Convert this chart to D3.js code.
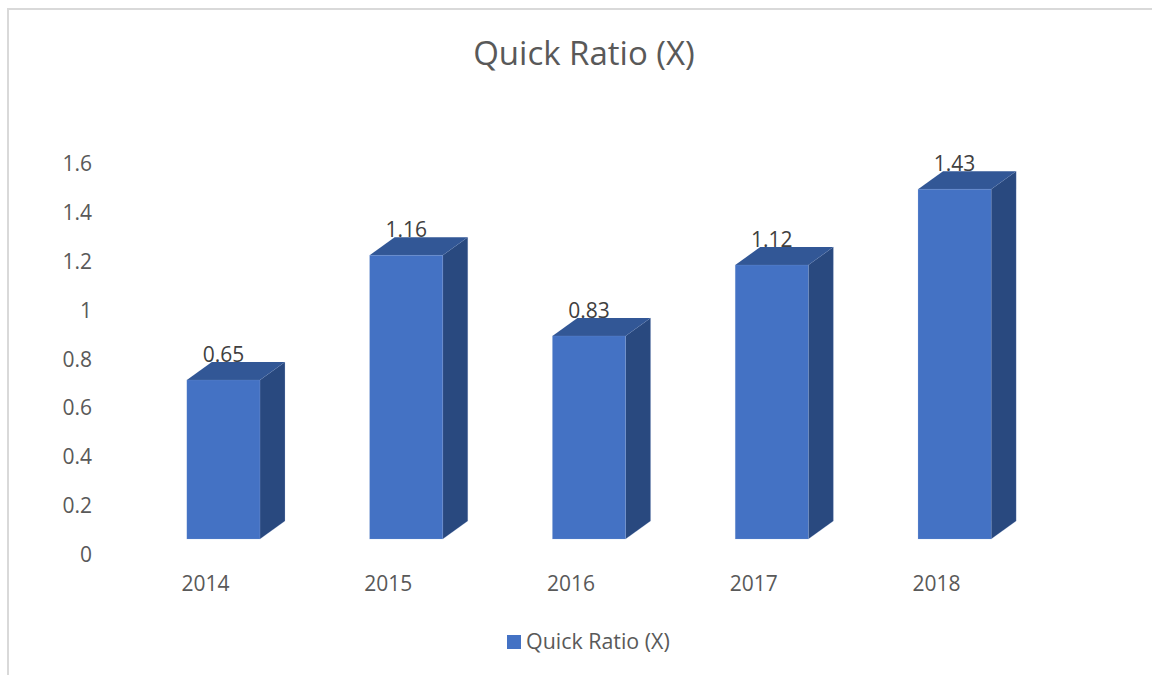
<!DOCTYPE html>
<html><head><meta charset="utf-8">
<script src="https://cdn.jsdelivr.net/npm/d3@7"></script>
<style>html,body{margin:0;padding:0;background:#fff}svg{display:block}text{font-family:"Open Sans",sans-serif}</style>
</head><body><svg id="c" width="1152" height="675"></svg>
<script>
const categories=["2014","2015","2016","2017","2018"];
const values=[0.65,1.16,0.83,1.12,1.43];
const yTicks=[0,0.2,0.4,0.6,0.8,1,1.2,1.4,1.6];
const seriesName="Quick Ratio (X)";
const W=1152,H=675,depthX=25,depthY=18;
const svg=d3.select("#c");
svg.append("path").attr("d",`M8,${H}V9H${W}`).attr("fill","none").attr("stroke","#d9d9d9").attr("stroke-width",2);
const x=d3.scaleBand().domain(categories).range([132,1046]).paddingInner(.6).paddingOuter(.3);
const y=d3.scaleLinear().domain([0,1.6]).range([539,147.6]);
svg.append("text").attr("x",584).attr("y",65).attr("text-anchor","middle").attr("font-size",33).attr("fill","#595959").text(seriesName);
const ya=svg.append("g").attr("transform","translate(92,16)").call(d3.axisLeft(y).tickValues(yTicks).tickSize(0).tickPadding(0).tickFormat(d=>String(d)));
ya.select(".domain").remove();
ya.selectAll("text").attr("font-size",21).attr("font-family",'"Open Sans",sans-serif').attr("fill","#595959");
const xa=svg.append("g").attr("transform","translate(-18,576)").call(d3.axisBottom(x).tickSize(0).tickPadding(0));
xa.select(".domain").remove();
xa.selectAll("text").attr("font-size",21).attr("font-family",'"Open Sans",sans-serif').attr("fill","#595959");
const bars=svg.append("g").selectAll("g").data(categories.map((c,i)=>({c,v:values[i]}))).join("g");
bars.append("path").attr("fill","#29497f").attr("stroke","#8faadc").attr("stroke-opacity",.25).attr("stroke-width",.7)
 .attr("d",d=>{const l=x(d.c)+x.bandwidth(),t=y(d.v),b=y(0);return `M${l},${t}L${l+depthX},${t-depthY}V${b-depthY}L${l},${b}Z`});
bars.append("path").attr("fill","#325796")
 .attr("d",d=>{const l=x(d.c),r=l+x.bandwidth(),t=y(d.v);return `M${l},${t}L${l+depthX},${t-depthY}H${r+depthX}L${r},${t}Z`});
bars.append("rect").attr("fill","#4472c4").attr("stroke","#8faadc").attr("stroke-opacity",.25).attr("stroke-width",.7)
 .attr("x",d=>x(d.c)).attr("y",d=>y(d.v)).attr("width",x.bandwidth()).attr("height",d=>y(0)-y(d.v));
bars.append("text").attr("x",d=>x(d.c)+x.bandwidth()/2).attr("y",d=>y(d.v)-18).attr("text-anchor","middle").attr("font-size",21).attr("fill","#404040").text(d=>d.v);
svg.append("rect").attr("x",507).attr("y",635).attr("width",14).attr("height",14).attr("fill","#4472c4");
svg.append("text").attr("x",526).attr("y",649).attr("font-size",21.4).attr("fill","#595959").text(seriesName);
</script></body></html>
